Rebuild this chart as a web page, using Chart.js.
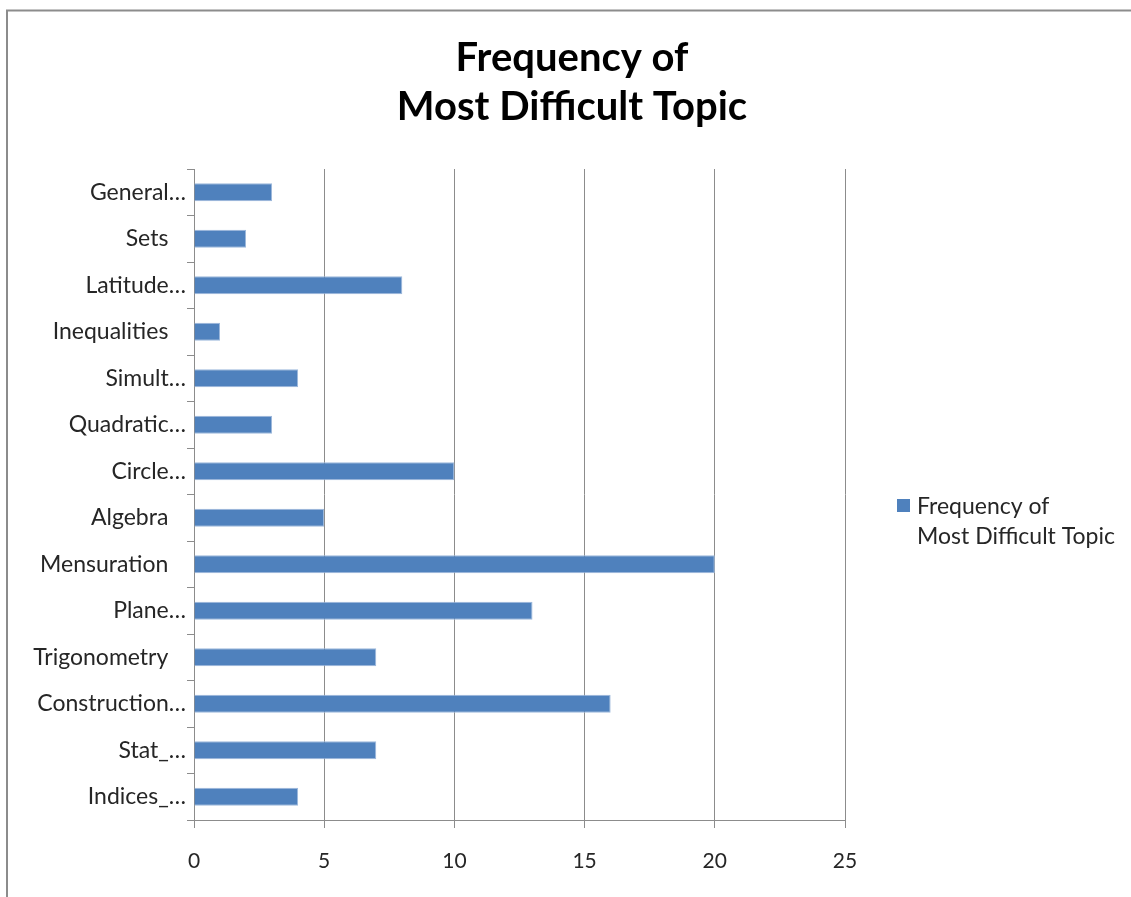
<!DOCTYPE html>
<html>
<head>
<meta charset="utf-8">
<style>
  html, body { margin: 0; padding: 0; background: #ffffff; }
  #wrap { width: 1131px; height: 897px; }
</style>
<script src="https://cdn.jsdelivr.net/npm/chart.js@4/dist/chart.umd.min.js"></script>
</head>
<body>
<div id="wrap"><canvas id="c" width="1131" height="897"></canvas></div>
<script>
// Topics, listed top to bottom
const topics = [
  "General\u2026", "Sets   ", "Latitude\u2026", "Inequalities   ", "Simult\u2026",
  "Quadratic\u2026", "Circle\u2026", "Algebra   ", "Mensuration   ", "Plane\u2026",
  "Trigonometry   ", "Construction\u2026", "Stat_\u2026", "Indices_\u2026"
];
// How many students picked each topic as the hardest
const frequency = [3, 2, 8, 1, 4, 3, 10, 5, 20, 13, 7, 16, 7, 4];
// Value axis ticks
const xTicks = [0, 5, 10, 15, 20, 25];
const titleLines = ["Frequency of", "Most Difficult Topic"];
const seriesLines = ["Frequency of", "Most Difficult Topic"];

const FONT = "Lato, 'Open Sans', sans-serif";
const BAR = "#4f81bd";

// Frame, title and side legend drawn onto the canvas
const decor = {
  id: "decor",
  beforeDraw(chart) {
    const ctx = chart.ctx;
    ctx.save();
    ctx.fillStyle = "#ffffff";
    ctx.fillRect(0, 0, chart.width, chart.height);
    ctx.strokeStyle = "#8c8c8c";
    ctx.lineWidth = 2;
    ctx.strokeRect(7, 10.5, chart.width + 20, chart.height + 20);
    ctx.restore();
  },
  afterDraw(chart) {
    const ctx = chart.ctx;
    ctx.save();
    ctx.fillStyle = "#000000";
    ctx.textAlign = "center";
    ctx.textBaseline = "alphabetic";
    ctx.font = "bold 40px " + FONT;
    ctx.fillText(titleLines[0], 572, 71);
    ctx.fillText(titleLines[1], 572, 120);

    const ds = chart.data.datasets[0];
    ctx.fillStyle = ds.backgroundColor;
    ctx.fillRect(897, 499, 13, 13);
    ctx.fillStyle = "#262626";
    ctx.textAlign = "left";
    ctx.font = "23px " + FONT;
    ctx.fillText(seriesLines[0], 917, 514);
    ctx.fillText(seriesLines[1], 917, 544);
    ctx.restore();
  }
};

new Chart(document.getElementById("c"), {
  type: "bar",
  data: {
    labels: topics,
    datasets: [{
      label: seriesLines.join(" "),
      data: frequency,
      backgroundColor: BAR,
      borderColor: "#9db8db",
      borderWidth: 1,
      borderSkipped: "start",
      barPercentage: 0.78,
      categoryPercentage: 0.5
    }]
  },
  options: {
    indexAxis: "y",
    responsive: false,
    animation: false,
    layout: { padding: { left: 0, top: 169, right: 286, bottom: 0 } },
    plugins: {
      legend: { display: false },
      title: { display: false },
      tooltip: { enabled: false }
    },
    scales: {
      x: {
        min: 0,
        max: 25,
        afterBuildTicks(axis) { axis.ticks = xTicks.map(v => ({ value: v })); },
        afterFit(axis) { axis.height = 77; },
        grid: { color: "#8c8c8c", lineWidth: 1, tickLength: 8, drawTicks: true },
        border: { display: true, color: "#8c8c8c", width: 1 },
        ticks: { color: "#262626", padding: 21, font: { family: FONT, size: 21 } }
      },
      y: {
        afterFit(axis) { axis.width = 194; },
        grid: { display: true, drawOnChartArea: false, drawTicks: true, tickLength: 7, color: "#8c8c8c", offset: true },
        border: { display: true, color: "#8c8c8c", width: 1 },
        ticks: { color: "#262626", padding: 1, autoSkip: false, font: { family: FONT, size: 23 } }
      }
    }
  },
  plugins: [decor]
});
</script>
</body>
</html>
